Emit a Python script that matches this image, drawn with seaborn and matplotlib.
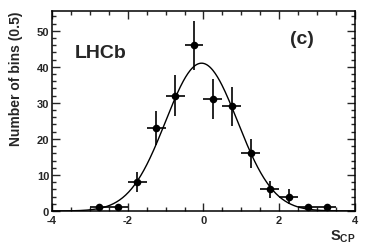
import numpy as np
import pandas as pd
import seaborn as sns
import matplotlib
matplotlib.use("Agg")
import matplotlib.pyplot as plt
from matplotlib.ticker import MultipleLocator

# data: bin centres (bin width 0.5) and counts
bin_centers = [-2.75, -2.25, -1.75, -1.25, -0.75, -0.25, 0.25, 0.75, 1.25, 1.75, 2.25, 2.75, 3.25]
counts = [1, 1, 8, 23, 32, 46, 31, 29, 16, 6, 4, 1, 1]
bin_half_width = 0.25

# gaussian fit parameters
fit_amp = 41.0
fit_mean = -0.05
fit_sigma = 0.95

sns.set_theme(style="ticks")
plt.rcParams["font.family"] = ["Liberation Sans", "DejaVu Sans"]
plt.rcParams["font.weight"] = "bold"
plt.rcParams["axes.unicode_minus"] = False
plt.rcParams["mathtext.fontset"] = "custom"
plt.rcParams["mathtext.bf"] = "Liberation Sans:bold"
plt.rcParams["mathtext.rm"] = "Liberation Sans:bold"

df = pd.DataFrame({"x": bin_centers, "n": counts})
df["err"] = np.sqrt(df["n"])

xs = np.linspace(-4, 4, 400)
fit = pd.DataFrame({"x": xs, "y": fit_amp * np.exp(-0.5 * ((xs - fit_mean) / fit_sigma) ** 2)})

fig = plt.figure(figsize=(3.74, 2.53), dpi=100)
ax = fig.add_axes([0.139, 0.162, 0.810, 0.791])

sns.lineplot(data=fit, x="x", y="y", ax=ax, color="black", lw=1.0)
ax.errorbar(df["x"], df["n"], yerr=df["err"], xerr=bin_half_width,
            fmt="none", ecolor="black", elinewidth=1.2, capsize=0)
sns.scatterplot(data=df, x="x", y="n", ax=ax, color="black", s=30,
                edgecolor="black", linewidth=0, zorder=5)

ax.set_xlim(-4, 4)
ax.set_ylim(0, 55.5)
ax.xaxis.set_major_locator(MultipleLocator(2))
ax.xaxis.set_minor_locator(MultipleLocator(0.5))
ax.yaxis.set_major_locator(MultipleLocator(10))
ax.yaxis.set_minor_locator(MultipleLocator(2))
ax.tick_params(which="both", direction="in", top=True, right=True,
               labelsize=8, width=1.0)
ax.tick_params(axis="y", pad=2)
ax.tick_params(axis="x", pad=3)
ax.tick_params(which="major", length=5.5)
ax.tick_params(which="minor", length=2.6)
for lab in ax.get_xticklabels() + ax.get_yticklabels():
    lab.set_fontweight("bold")
for sp in ax.spines.values():
    sp.set_linewidth(1.1)
    sp.set_color("black")

ax.set_xlabel("")
ax.set_ylabel("")
fig.text(0.044, 0.953, "Number of bins (0.5)", rotation=90, ha="center", va="top",
         fontsize=10, fontweight="bold")
fig.text(0.952, 0.051, r"$\mathbf{S}_{\mathbf{CP}}$", ha="right", va="baseline",
         fontsize=10.5)

ax.text(0.076, 0.771, "LHCb", transform=ax.transAxes, fontsize=14,
        fontweight="bold", ha="left", va="baseline")
ax.text(0.785, 0.838, "(c)", transform=ax.transAxes, fontsize=14,
        fontweight="bold", ha="left", va="baseline")

fig.savefig("out.png", dpi=100)
